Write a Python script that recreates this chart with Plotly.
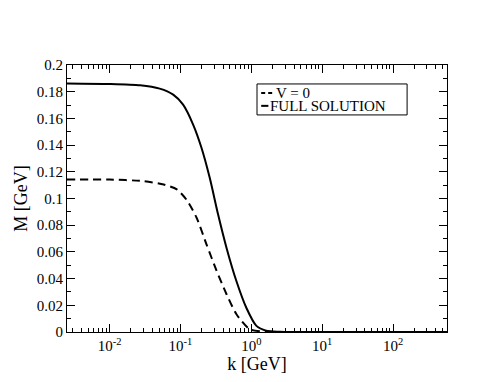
import plotly.graph_objects as go

# values
k_full = [0.0025, 0.01, 0.027, 0.051, 0.079, 0.109, 0.151, 0.198, 0.259, 0.34,
          0.447, 0.617, 0.853, 1.18, 1.62, 2.5, 4, 6, 10, 30, 100, 575]
m_full = [0.1862, 0.1858, 0.1848, 0.1823, 0.1778, 0.1703, 0.1554, 0.138, 0.1155, 0.088,
          0.063, 0.038, 0.018, 0.0046, 0.001, 0.0002, 0.0, 0.0, 0.0, 0.0, 0.0, 0.0]

k_v0 = [0.0025, 0.01, 0.03, 0.058, 0.089, 0.122, 0.169, 0.233, 0.324, 0.447,
        0.617, 0.955, 1.58, 2.5, 4, 6, 10, 30, 100, 575]
m_v0 = [0.1143, 0.1142, 0.113, 0.1105, 0.1068, 0.099, 0.0856, 0.0657, 0.0458, 0.0283,
        0.0133, 0.002, 0.0003, 0.0, 0.0, 0.0, 0.0, 0.0, 0.0, 0.0]

series_names = ["V = 0", "FULL SOLUTION"]

x_major = [0.01, 0.1, 1, 10, 100]
x_labels = ["10<sup>-2</sup>", "10<sup>-1</sup>", "10<sup>0</sup>", "10<sup>1</sup>", "10<sup>2</sup>"]
x_minor = [m * 10 ** e for e in range(-3, 3) for m in range(2, 10)]

y_major = [round(0.02 * i, 2) for i in range(11)]
y_labels = ["0"] + ["%g" % v for v in y_major[1:]]
y_minor = [round(0.01 * i, 2) for i in range(21)]

font = "Liberation Serif"

fig = go.Figure()
fig.add_trace(go.Scatter(x=k_v0, y=m_v0, mode="lines", name=series_names[0],
                         line=dict(color="black", width=2, dash="8px,5px",
                                   shape="spline", smoothing=0.7)))
fig.add_trace(go.Scatter(x=k_full, y=m_full, mode="lines", name=series_names[1],
                         line=dict(color="black", width=2, shape="spline", smoothing=0.7)))

# legend box drawn by hand so its rows sit as tight as in the original
fig.add_shape(type="rect", xref="paper", yref="paper", x0=0.5, x1=0.895, y0=0.813, y1=0.929,
              line=dict(color="black", width=1), fillcolor="white", layer="above")
rows = [(0.895, "4px,3px", 0.511, 0.541, 0.546), (0.847, "solid", 0.511, 0.53, 0.53)]
for (yy, dsh, lx0, lx1, tx), name in zip(rows, series_names):
    fig.add_shape(type="line", xref="paper", yref="paper", x0=lx0, x1=lx1, y0=yy, y1=yy,
                  line=dict(color="black", width=2, dash=dsh), layer="above")
    fig.add_annotation(x=tx, y=yy, xref="paper", yref="paper", text=name, showarrow=False,
                       xanchor="left", yanchor="middle", font=dict(family=font, size=15))

fig.update_layout(
    width=494, height=382,
    margin=dict(l=57, r=55, t=57, b=58),
    paper_bgcolor="white", plot_bgcolor="white",
    font=dict(family=font, size=15, color="black"),
    showlegend=False,
)
fig.update_xaxes(
    type="log", range=[-2.6, 2.76],
    tickvals=x_major, ticktext=x_labels,
    ticks="inside", ticklen=8, tickcolor="black",
    minor=dict(tickvals=x_minor, ticks="inside", ticklen=4, tickcolor="black"),
    showline=True, linecolor="black", linewidth=1, mirror="allticks",
    showgrid=False, zeroline=False,
    title=dict(text="k [GeV]", standoff=0),
    tickfont=dict(family=font, size=15),
)
fig.update_yaxes(
    range=[0, 0.2],
    tickvals=y_major, ticktext=y_labels,
    ticks="inside", ticklen=8, tickcolor="black",
    minor=dict(tickvals=y_minor, ticks="inside", ticklen=4, tickcolor="black"),
    showline=True, linecolor="black", linewidth=1, mirror="allticks",
    showgrid=False, zeroline=False,
    title=dict(text="M [GeV]", standoff=4),
    tickfont=dict(family=font, size=15),
)

fig.write_html("out.html")
